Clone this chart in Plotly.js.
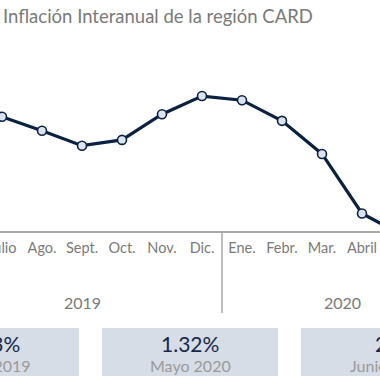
<!DOCTYPE html>
<html>
<head>
<meta charset="utf-8">
<script src="https://cdn.plot.ly/plotly-3.0.1.min.js"></script>
<style>html,body{margin:0;padding:0;background:#fff}#chart{width:380px;height:380px}</style>
</head>
<body>
<div id="chart"></div>
<script>
// Data
var months = ['Junio','Julio','Ago.','Sept.','Oct.','Nov.','Dic.','Ene.','Febr.','Mar.','Abril','Mayo','Junio'];
var years = ['2019','2019','2019','2019','2019','2019','2019','2020','2020','2020','2020','2020','2020'];
var inflation = [2.83, 2.75, 2.58, 2.40, 2.47, 2.78, 3.00, 2.95, 2.70, 2.30, 1.58, 1.32, 2.00];
var boxValues = ['2.83%', '1.32%', '2%'];
var boxLabels = ['Junio 2019', 'Mayo 2020', 'Junio 2020'];

var FONT = 'Lato, sans-serif';
var W = 380, H = 380;
function py(px){ return 1 - px / H; }
function pxX(px){ return px / W; }

var xs = months.map(function(m, i){ return i; });

var trace = {
  x: xs, y: inflation, type: 'scatter', mode: 'lines+markers',
  line: {color: '#0b2142', width: 3.2},
  marker: {size: 9, color: '#dbe3ef', line: {color: '#0b2142', width: 1.6}},
  hoverinfo: 'skip', cliponaxis: true
};

var shapes = [];
var annotations = [];

// year separator between Dic. and Ene.
var lastIdx2019 = years.lastIndexOf('2019');
shapes.push({type: 'line', xref: 'x', yref: 'paper', x0: lastIdx2019 + 0.5, x1: lastIdx2019 + 0.5,
  y0: py(231), y1: py(313), line: {color: '#a9a9a9', width: 1.5}});

// year labels centered on their month groups
['2019', '2020'].forEach(function(yr){
  var idx = xs.filter(function(i){ return years[i] === yr; });
  var c = (idx[0] + idx[idx.length - 1]) / 2;
  annotations.push({xref: 'x', yref: 'paper', x: c, y: py(302), text: yr, showarrow: false,
    xanchor: 'center', yanchor: 'middle', font: {family: FONT, size: 16, color: '#7a7a7a'}});
});

// summary boxes
var boxLefts = [-97, 102, 301], boxW = 176;
boxValues.forEach(function(v, k){
  var x0 = boxLefts[k], x1 = x0 + boxW, cx = (x0 + x1) / 2;
  shapes.push({type: 'rect', xref: 'paper', yref: 'paper', x0: pxX(x0), x1: pxX(x1), y0: py(376), y1: py(328),
    fillcolor: '#d6dde6', line: {width: 0}, layer: 'below'});
  annotations.push({xref: 'paper', yref: 'paper', x: pxX(cx), y: py(343), text: v, showarrow: false,
    xanchor: 'center', yanchor: 'middle', font: {family: FONT, size: 21, color: '#14284b'}});
  annotations.push({xref: 'paper', yref: 'paper', x: pxX(cx), y: py(365), text: boxLabels[k], showarrow: false,
    xanchor: 'center', yanchor: 'middle', font: {family: FONT, size: 16, color: '#9a9a9a'}});
});

var layout = {
  width: W, height: H,
  margin: {l: 0, r: 0, t: 0, b: 0, pad: 0},
  paper_bgcolor: '#ffffff', plot_bgcolor: 'rgba(0,0,0,0)',
  showlegend: false,
  title: {text: 'Inflación Interanual de la región CARD', x: pxX(3), xanchor: 'left', xref: 'paper',
    y: py(17), yanchor: 'middle', yref: 'container', font: {family: FONT, size: 18.5, color: '#7a7a7a'}},
  xaxis: {
    domain: [0, 1], range: [0.95, 10.45], tickmode: 'array', tickvals: xs, ticktext: months,
    showgrid: false, zeroline: false, showline: true, linecolor: '#a9a9a9', linewidth: 1.5,
    ticks: '', ticklabelstandoff: 3, ticklabeloverflow: 'allow',
    tickfont: {family: FONT, size: 14.5, color: '#7a7a7a'}, fixedrange: true
  },
  yaxis: {
    domain: [py(231), 1], range: [1.368, 4.162], visible: false, fixedrange: true
  },
  shapes: shapes,
  annotations: annotations
};

Plotly.newPlot('chart', [trace], layout, {displayModeBar: false, staticPlot: true});
</script>
</body>
</html>
